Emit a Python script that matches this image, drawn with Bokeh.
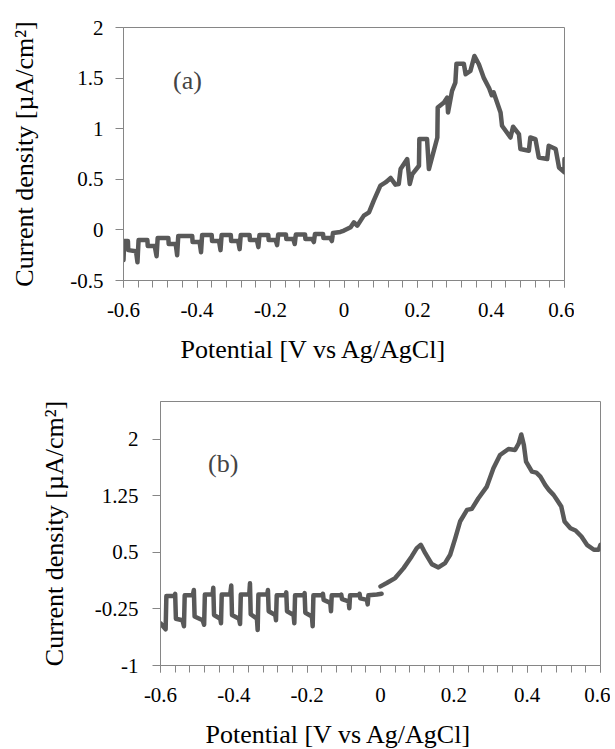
from bokeh.plotting import figure
from bokeh.layouts import column, row
from bokeh.models import FixedTicker, Label, Range1d, Title, Spacer
from bokeh.embed import file_html
from bokeh.resources import INLINE

# ---------------- data ----------------
x_major = [-0.6, -0.4, -0.2, 0, 0.2, 0.4, 0.6]
x_major_labels = ["-0.6", "-0.4", "-0.2", "0", "0.2", "0.4", "0.6"]
x_minor = [-0.6, -0.56, -0.52, -0.48, -0.44, -0.4, -0.36, -0.32, -0.28, -0.24,
           -0.2, -0.16, -0.12, -0.08, -0.04, 0, 0.04, 0.08, 0.12, 0.16, 0.2,
           0.24, 0.28, 0.32, 0.36, 0.4, 0.44, 0.48, 0.52, 0.56, 0.6]

top_yticks = [-0.5, 0, 0.5, 1, 1.5, 2]
top_ylabels = ["-0.5", "0", "0.5", "1", "1.5", "2"]
bot_yticks = [-1, -0.25, 0.5, 1.25, 2]
bot_ylabels = ["-1", "-0.25", "0.5", "1.25", "2"]

# (a) potential [V] and current density [uA/cm2]
top_potential = [
    -0.600, -0.598, -0.588, -0.587, -0.566, -0.562, -0.559, -0.535, -0.534, -0.515,
    -0.510, -0.507, -0.478, -0.477, -0.458, -0.454, -0.451, -0.413, -0.412, -0.393,
    -0.389, -0.386, -0.360, -0.359, -0.340, -0.336, -0.333, -0.308, -0.307, -0.288,
    -0.284, -0.281, -0.257, -0.256, -0.237, -0.233, -0.230, -0.206, -0.205, -0.186,
    -0.182, -0.179, -0.158, -0.157, -0.138, -0.134, -0.131, -0.106, -0.105, -0.086,
    -0.082, -0.079, -0.057, -0.056, -0.037, -0.033, -0.030, -0.010, 0.000, 0.018,
    0.027, 0.036, 0.054, 0.068, 0.081, 0.099, 0.113, 0.127, 0.140, 0.149,
    0.154, 0.172, 0.179, 0.186, 0.204, 0.205, 0.226, 0.231, 0.254, 0.255,
    0.272, 0.281, 0.283, 0.294, 0.303, 0.306, 0.326, 0.331, 0.344, 0.355,
    0.367, 0.380, 0.395, 0.402, 0.407, 0.426, 0.430, 0.453, 0.460, 0.476,
    0.480, 0.503, 0.507, 0.521, 0.530, 0.553, 0.557, 0.576, 0.585, 0.600,
    0.600]
top_current = [
    -0.30, -0.11, -0.11, -0.20, -0.21, -0.32, -0.10, -0.10, -0.16, -0.16,
    -0.26, -0.08, -0.08, -0.14, -0.14, -0.25, -0.06, -0.06, -0.12, -0.12,
    -0.22, -0.05, -0.05, -0.11, -0.11, -0.20, -0.05, -0.05, -0.11, -0.11,
    -0.19, -0.05, -0.05, -0.10, -0.10, -0.17, -0.05, -0.05, -0.10, -0.10,
    -0.15, -0.045, -0.045, -0.09, -0.09, -0.14, -0.045, -0.045, -0.09, -0.09,
    -0.12, -0.04, -0.04, -0.08, -0.08, -0.11, -0.03, -0.02, -0.007, 0.026,
    0.075, 0.042, 0.141, 0.174, 0.289, 0.437, 0.469, 0.513, 0.447, 0.454,
    0.601, 0.700, 0.454, 0.552, 0.634, 0.897, 0.897, 0.601, 0.913, 1.209,
    1.258, 1.308, 1.160, 1.374, 1.456, 1.643, 1.643, 1.538, 1.571, 1.719,
    1.637, 1.505, 1.400, 1.330, 1.360, 1.160, 1.029, 0.913, 1.019, 0.947,
    0.799, 0.782, 0.913, 0.897, 0.716, 0.700, 0.831, 0.799, 0.617, 0.568,
    0.700]

# (b) staircase part up to 0 V
bot_scan_potential = [
    -0.600, -0.586,
    -0.584, -0.562, -0.560, -0.558, -0.540, -0.536,
    -0.534, -0.512, -0.509, -0.507, -0.485, -0.481,
    -0.479, -0.458, -0.456, -0.454, -0.437, -0.435,
    -0.433, -0.410, -0.407, -0.405, -0.386, -0.383,
    -0.381, -0.358, -0.356, -0.354, -0.337, -0.335,
    -0.333, -0.309, -0.307, -0.305, -0.287, -0.285,
    -0.283, -0.259, -0.257, -0.255, -0.237, -0.235,
    -0.233, -0.209, -0.207, -0.205, -0.187, -0.185,
    -0.183, -0.159, -0.157, -0.155, -0.137, -0.135,
    -0.133, -0.109, -0.107, -0.105, -0.087, -0.085,
    -0.083, -0.059, -0.057, -0.055, -0.037, -0.035,
    -0.033, -0.010, 0.003]
bot_scan_current = [
    -0.44, -0.52,
    -0.08, -0.08, -0.05, -0.38, -0.40, -0.48,
    -0.07, -0.07, 0.00, -0.35, -0.40, -0.46,
    -0.06, -0.06, 0.03, -0.33, -0.38, -0.44,
    -0.06, -0.06, 0.06, -0.33, -0.38, -0.45,
    -0.06, -0.06, 0.09, -0.32, -0.38, -0.53,
    -0.06, -0.06, 0.00, -0.28, -0.33, -0.40,
    -0.07, -0.07, -0.03, -0.28, -0.33, -0.44,
    -0.07, -0.07, -0.04, -0.30, -0.35, -0.48,
    -0.07, -0.07, -0.05, -0.13, -0.17, -0.28,
    -0.07, -0.07, -0.06, -0.12, -0.15, -0.24,
    -0.07, -0.07, -0.05, -0.11, -0.13, -0.19,
    -0.07, -0.06, -0.05]
# (b) anodic part from 0 V
bot_peak_potential = [
    0.000, 0.017, 0.040, 0.063, 0.085, 0.099, 0.110, 0.122, 0.140, 0.158,
    0.176, 0.190, 0.204, 0.217, 0.236, 0.249, 0.267, 0.290, 0.308, 0.326,
    0.349, 0.367, 0.377, 0.384, 0.391, 0.397, 0.413, 0.425, 0.436, 0.449,
    0.459, 0.472, 0.481, 0.493, 0.502, 0.518, 0.532, 0.548, 0.563, 0.582,
    0.595, 0.600]
bot_peak_current = [
    0.049, 0.093, 0.159, 0.291, 0.446, 0.556, 0.600, 0.489, 0.344, 0.300,
    0.357, 0.468, 0.688, 0.909, 1.063, 1.077, 1.217, 1.372, 1.614, 1.791,
    1.870, 1.857, 1.944, 2.063, 1.923, 1.702, 1.570, 1.557, 1.504, 1.394,
    1.328, 1.262, 1.196, 1.107, 0.909, 0.820, 0.790, 0.710, 0.600, 0.534,
    0.534, 0.600]

x_title = "Potential [V vs Ag/AgCl]"
y_title = "Current density [\u00b5A/cm\u00b2]"

# ---------------- styling ----------------
FONT = "Liberation Serif"
LINE_COLOR = "#595959"
AXIS_COLOR = "#868686"
TICK_SIZE = "21px"
TITLE_SIZE = "26px"


def style_axes(p, yticks, ylabels, ystandoff, ytitle_standoff):
    p.xaxis.ticker = FixedTicker(ticks=x_major, minor_ticks=x_minor)
    p.xaxis.major_label_overrides = {t: s for t, s in zip(x_major, x_major_labels)}
    p.yaxis.ticker = FixedTicker(ticks=yticks, minor_ticks=[])
    p.yaxis.major_label_overrides = {t: s for t, s in zip(yticks, ylabels)}
    for ax in (p.xaxis[0], p.yaxis[0]):
        ax.axis_line_color = AXIS_COLOR
        ax.major_tick_line_color = AXIS_COLOR
        ax.minor_tick_line_color = AXIS_COLOR
        ax.major_tick_in = 0
        ax.minor_tick_in = 0
        ax.major_label_text_font = FONT
        ax.major_label_text_font_size = TICK_SIZE
        ax.major_label_text_color = "black"
    p.xaxis.major_tick_out = 7
    p.xaxis.minor_tick_out = 7
    p.xaxis.major_label_standoff = 15
    p.yaxis.major_tick_out = 8
    p.yaxis.minor_tick_out = 0
    p.yaxis.major_label_standoff = ystandoff
    p.yaxis.axis_label = y_title
    p.yaxis.axis_label_text_font = FONT
    p.yaxis.axis_label_text_font_size = TITLE_SIZE
    p.yaxis.axis_label_text_font_style = "normal"
    p.yaxis.axis_label_text_color = "black"
    p.yaxis.axis_label_standoff = ytitle_standoff
    p.grid.visible = False
    p.outline_line_color = AXIS_COLOR
    p.outline_line_width = 1
    p.background_fill_color = "white"
    p.border_fill_color = "white"


def x_title_box(offset, standoff):
    return Title(text=x_title, align="left", offset=offset, standoff=standoff,
                 text_font=FONT, text_font_size=TITLE_SIZE,
                 text_font_style="normal", text_color="black")


# ---------------- (a) ----------------
p1 = figure(frame_width=441, frame_height=253,
            min_border_left=123, min_border_right=10,
            min_border_top=27, min_border_bottom=98,
            x_range=Range1d(-0.6, 0.6), y_range=Range1d(-0.5, 2),
            output_backend="svg", toolbar_location=None)
style_axes(p1, top_yticks, top_ylabels, 12, 28)
p1.line(top_potential, top_current, line_color=LINE_COLOR, line_width=4.5,
        line_join="round", line_cap="round")
p1.add_layout(Label(x=-0.426, y=1.472, text="(a)", text_font=FONT,
                    text_font_size="26px", text_align="center",
                    text_baseline="middle"))
p1.add_layout(x_title_box(57, 26), "below")

# ---------------- (b) ----------------
p2 = figure(frame_width=440, frame_height=264,
            min_border_left=123, min_border_right=10,
            min_border_top=23, min_border_bottom=83,
            x_range=Range1d(-0.6, 0.6), y_range=Range1d(-1, 2.5),
            output_backend="svg", toolbar_location=None)
style_axes(p2, bot_yticks, bot_ylabels, 14, 23)
p2.line(bot_scan_potential, bot_scan_current, line_color=LINE_COLOR,
        line_width=4.5, line_join="round", line_cap="round")
p2.line(bot_peak_potential, bot_peak_current, line_color=LINE_COLOR,
        line_width=4.5, line_join="round", line_cap="round")
p2.add_layout(Label(x=-0.429, y=1.676, text="(b)", text_font=FONT,
                    text_font_size="26px", text_align="center",
                    text_baseline="middle"))
p2.add_layout(x_title_box(45, 27), "below")

layout = column(p1, row(Spacer(width=36, height=10), p2))
open("out.html", "w").write(file_html(layout, INLINE))
